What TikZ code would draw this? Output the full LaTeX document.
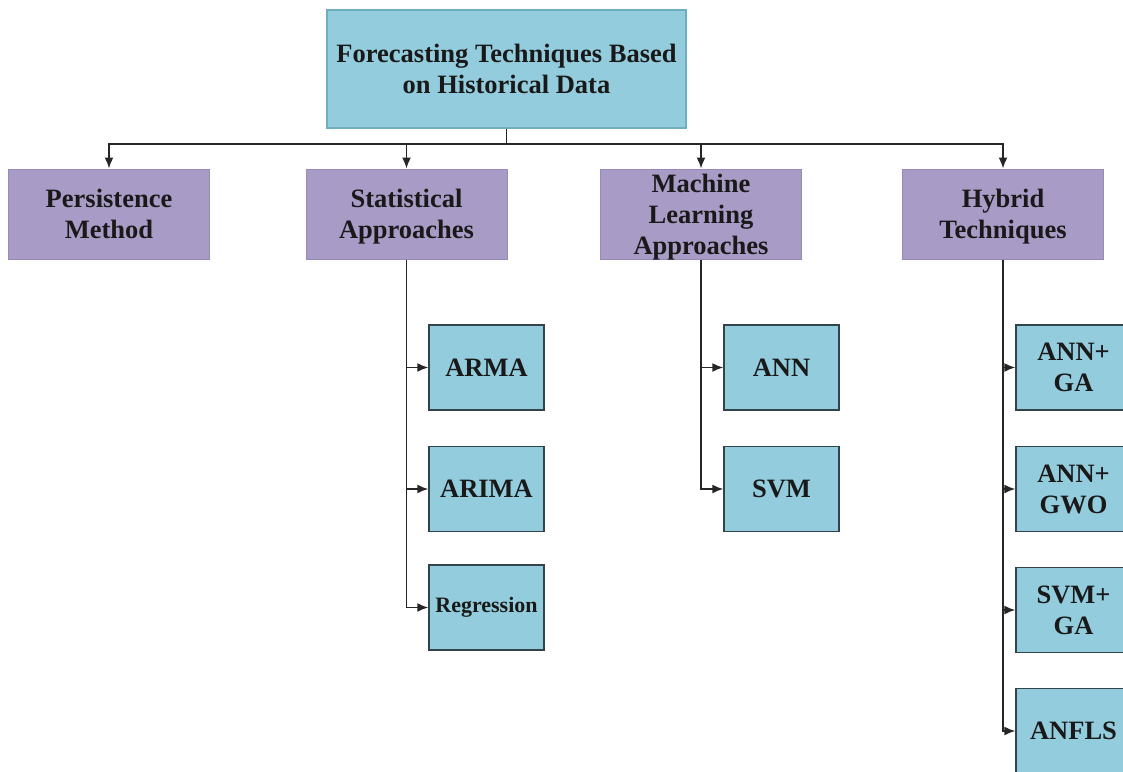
\documentclass[tikz,border=0pt]{standalone}
\usepackage{fontspec}
\setmainfont{Liberation Serif}
\usetikzlibrary{arrows.meta}

\definecolor{cyanfill}{HTML}{93CDDD}
\definecolor{cyanedge}{HTML}{6FAEBF}
\definecolor{purplefill}{HTML}{A89BC6}
\definecolor{purpleedge}{HTML}{978AB8}
\definecolor{darkedge}{HTML}{33434A}

\tikzset{
  basebox/.style={rectangle, inner sep=0pt, align=center,
    font=\bfseries\fontsize{26.5}{31}\selectfont, text=black!90},
  rootbox/.style={basebox, fill=cyanfill, draw=cyanedge, line width=1.2pt,
    minimum width=359pt, minimum height=118pt},
  catbox/.style={basebox, fill=purplefill, draw=purpleedge, line width=1pt,
    minimum width=201pt, minimum height=90pt, text depth=0pt},
  leafbox/.style={basebox, fill=cyanfill, draw=darkedge, line width=1.4pt,
    minimum width=115pt, minimum height=85pt},
  link/.style={draw=black!85, line width=1.6pt},
  arrowlink/.style={link, -{Latex[length=11pt,width=9pt]}}
}

\begin{document}
\begin{tikzpicture}[x=1pt,y=-1pt]
  \useasboundingbox (0,0) rectangle (1123,771);
  \clip (0,0) rectangle (1123,771);

  % root
  \node[rootbox] (root) at (506.5,69) {Forecasting Techniques Based\\on Historical Data};

  % categories
  \node[catbox] (pers) at (109,214)  {Persistence\\Method};
  \node[catbox] (stat) at (406.5,214) {Statistical\\Approaches};
  \node[catbox] (ml)   at (701,214)  {Machine\\Learning\\Approaches};
  \node[catbox] (hyb)  at (1003,214) {Hybrid\\Techniques};

  % statistical approaches
  \node[leafbox] (arma)  at (486.5,367.5) {ARMA};
  \node[leafbox] (arima) at (486.5,489)   {ARIMA};
  \node[leafbox, font=\bfseries\fontsize{22}{26}\selectfont] (regr) at (486.5,607.5) {Regression};

  % machine learning approaches
  \node[leafbox] (ann) at (781.5,367.5) {ANN};
  \node[leafbox] (svm) at (781.5,489)   {SVM};

  % hybrid techniques
  \node[leafbox] (annga)  at (1073.5,367.5) {ANN+\\GA};
  \node[leafbox] (anngwo) at (1073.5,489)   {ANN+\\GWO};
  \node[leafbox] (svmga)  at (1073.5,610)   {SVM+\\GA};
  \node[leafbox] (anfls)  at (1073.5,731)   {ANFLS};

  % bus from the root to the categories
  \coordinate (bus) at (506.5,144);
  \draw[link] (root.south) -- (bus);
  \draw[arrowlink] (bus) -| (pers.north);
  \draw[arrowlink] (bus) -| (stat.north);
  \draw[arrowlink] (bus) -| (ml.north);
  \draw[arrowlink] (bus) -| (hyb.north);

  % category to leaves
  \foreach \leaf in {arma, arima, regr}
    \draw[arrowlink] (stat.south) |- (\leaf.west);
  \foreach \leaf in {ann, svm}
    \draw[arrowlink] (ml.south) |- (\leaf.west);
  \foreach \leaf in {annga, anngwo, svmga, anfls}
    \draw[arrowlink] (hyb.south) |- (\leaf.west);
\end{tikzpicture}
\end{document}
